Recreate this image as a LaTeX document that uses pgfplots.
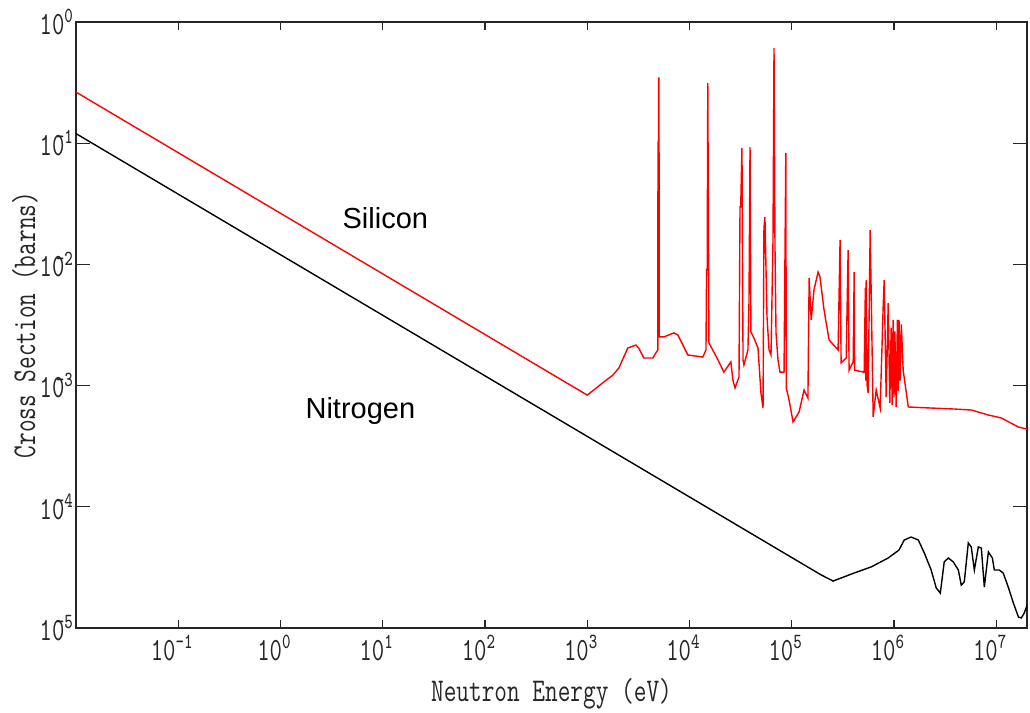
\documentclass[border=0pt]{standalone}
\usepackage{fontspec}
\usepackage{graphicx}
\usepackage{pgfplots}
\pgfplotsset{compat=1.18}
\newfontfamily\arial{Liberation Sans}
% the plotting program uses a tall narrow typewriter face
\newcommand{\tall}[1]{\scalebox{1}[1.35]{#1}}
\newcommand{\tickfont}{\ttfamily\fontsize{12}{12}\selectfont}
\newcommand{\xdecade}{\tall{\tickfont 10\textsuperscript{\pgfmathparse{int(round(\tick))}\pgfmathresult}}}
% on the y axis the minus sign sits over the zero, as in the original
\newcommand{\ydecade}{\tall{\tickfont 10\textsuperscript{\pgfmathparse{int(round(abs(\tick)))}\ifnum\pgfmathresult>0 \llap{-}\fi\pgfmathresult}}}

\begin{document}
\begin{tikzpicture}
  \begin{loglogaxis}[
    scale only axis,
    width=475.5pt, height=303pt,
    xmin=0.01, xmax=2e7,
    ymin=1e-5, ymax=1,
    log basis x=10, log basis y=10,
    xtick={1e-1,1,10,100,1e3,1e4,1e5,1e6,1e7},
    ytick={1e-5,1e-4,1e-3,1e-2,1e-1,1},
    tick align=inside,
    axis line style={line width=1pt, black!85},
    xtick style={/pgfplots/major tick length=4pt, /pgfplots/minor tick length=2.5pt, line width=0.6pt, black!85},
    ytick style={/pgfplots/major tick length=7pt, /pgfplots/minor tick length=4.5pt, line width=0.6pt, black!85},
    xticklabel={\xdecade},
    yticklabel={\ydecade},
    xticklabel style={black!85, xshift=-3pt},
    yticklabel style={black!85, xshift=2.5pt},
    xlabel={\tall{Neutron Energy (eV)}},
    ylabel={\tall{Cross Section (barns)}},
    label style={font=\ttfamily\fontsize{12.3}{12}\selectfont, black!85},
    xlabel style={at={(axis description cs:0.5,-0.109)}, anchor=center},
    ylabel style={at={(axis description cs:-0.0536,0.5)}, anchor=center},
  ]
    \coordinate (ll) at (rel axis cs:0,0);
    \coordinate (ur) at (rel axis cs:1,1);

    % Silicon
    \addplot[red, line width=0.7pt, no markers] coordinates {
      (0.01,0.264) (1.0e3,8.35e-4) (1.16e3,9.2e-4) (1.45e3,1.07e-3)
      (1.78e3,1.22e-3) (2.04e3,1.40e-3) (2.49e3,2.04e-3) (2.99e3,2.16e-3)
      (3.19e3,2.04e-3) (3.57e3,1.69e-3) (4.38e3,1.69e-3) (4.69e3,1.86e-3)
      (4.90e3,1.97e-3) (4.92e3,0.10) (4.97e3,0.10) (4.99e3,0.345)
      (5.03e3,0.345) (5.06e3,2.52e-3) (5.61e3,2.52e-3) (7.03e3,2.72e-3)
      (7.69e3,2.62e-3) (9.64e3,1.79e-3) (1.35e4,1.72e-3) (1.45e4,1.97e-3)
      (1.47e4,9.0e-3) (1.49e4,9.0e-3) (1.51e4,0.314) (1.55e4,2.25e-3)
      (1.90e4,1.63e-3) (2.17e4,1.29e-3) (2.54e4,1.57e-3) (2.66e4,1.11e-3)
      (2.79e4,9.55e-4) (3.05e4,1.18e-3) (3.12e4,0.0298) (3.17e4,0.0298)
      (3.26e4,0.0913) (3.34e4,1.63e-3) (3.41e4,1.48e-3) (3.73e4,1.97e-3)
      (3.82e4,4.90e-3) (3.91e4,0.093) (3.99e4,2.77e-3) (4.27e4,2.47e-3)
      (4.68e4,2.04e-3) (5.00e4,8.69e-4) (5.24e4,6.53e-4) (5.35e4,0.020)
      (5.47e4,0.0246) (5.73e4,3.68e-3) (6.00e4,1.97e-3) (6.27e4,1.79e-3)
      (6.56e4,0.0159) (6.71e4,0.61) (6.86e4,0.0139) (7.02e4,2.72e-3)
      (7.34e4,1.63e-3) (7.68e4,1.29e-3) (8.41e4,1.29e-3) (8.75e4,0.083)
      (8.85e4,9.55e-4) (9.42e4,7.6e-4) (1.03e5,5.01e-4) (1.18e5,6.06e-4)
      (1.32e5,9.2e-4) (1.44e5,7.9e-4) (1.48e5,7.72e-3) (1.55e5,3.48e-3)
      (1.65e5,6.15e-3) (1.81e5,8.65e-3) (1.89e5,7.87e-3) (2.07e5,4.21e-3)
      (2.32e5,2.38e-3) (2.84e5,1.97e-3) (2.97e5,0.0159) (3.04e5,1.54e-3)
      (3.41e5,1.69e-3) (3.56e5,0.0131) (3.64e5,1.34e-3) (3.99e5,1.57e-3)
      (4.08e5,8.65e-3) (4.12e5,1.34e-3) (5.11e5,1.29e-3) (5.25e5,6.4e-3)
      (5.30e5,1.1e-3) (5.35e5,7.43e-3) (5.47e5,1.0e-3) (5.59e5,8.69e-4)
      (5.85e5,0.0192) (6.26e5,5.51e-4) (6.70e5,9.2e-4) (7.33e5,6.53e-4)
      (7.84e5,4.45e-3) (8.02e5,7.43e-3) (8.39e5,8.05e-4) (8.78e5,4.80e-3)
      (9.10e5,7.2e-4) (9.39e5,3.0e-3) (9.60e5,6.9e-4) (9.80e5,3.48e-3)
      (1.00e6,8.0e-4) (1.02e6,2.8e-3) (1.05e6,6.66e-4) (1.08e6,3.48e-3)
      (1.10e6,9.0e-4) (1.12e6,3.48e-3) (1.15e6,1.1e-3) (1.18e6,3.2e-3)
      (1.23e6,1.34e-3) (1.38e6,6.66e-4) (2.31e6,6.53e-4) (3.88e6,6.41e-4)
      (5.70e6,6.29e-4) (8.36e6,5.72e-4) (1.12e7,5.41e-4) (1.65e7,4.55e-4)
      (2.0e7,4.38e-4)
    };

    % Nitrogen
    \addplot[black, line width=0.7pt, no markers] coordinates {
      (0.01,0.12) (1.94e5,2.74e-5) (2.54e5,2.44e-5) (4.07e5,2.84e-5)
      (5.98e5,3.19e-5) (8.77e5,3.78e-5) (1.12e6,4.40e-5) (1.26e6,5.32e-5)
      (1.47e6,5.63e-5) (1.73e6,5.32e-5) (1.98e6,4.16e-5) (2.31e6,3.01e-5)
      (2.59e6,2.14e-5) (2.84e6,1.94e-5) (3.10e6,3.51e-5) (3.40e6,3.78e-5)
      (3.80e6,3.51e-5) (4.26e6,3.01e-5) (4.55e6,2.26e-5) (4.87e6,2.40e-5)
      (5.33e6,5.03e-5) (5.70e6,4.66e-5) (6.11e6,3.01e-5) (6.68e6,4.66e-5)
      (7.15e6,4.57e-5) (7.65e6,2.18e-5) (8.38e6,4.24e-5) (9.17e6,3.78e-5)
      (9.58e6,3.01e-5) (1.07e7,3.01e-5) (1.17e7,2.84e-5) (1.31e7,2.18e-5)
      (1.47e7,1.61e-5) (1.65e7,1.23e-5) (1.76e7,1.21e-5) (1.88e7,1.33e-5)
      (2.06e7,1.64e-5)
    };

    \node[font=\arial\fontsize{14.5}{16}\selectfont] at (axis cs:10.6,0.0241) {Silicon};
    \node[font=\arial\fontsize{14.5}{16}\selectfont] at (axis cs:6.05,6.17e-4) {Nitrogen};
  \end{loglogaxis}
  \pgfresetboundingbox
  \path[use as bounding box] ([xshift=-38pt,yshift=-42.5pt]ll) rectangle ([xshift=1.5pt,yshift=11pt]ur);
\end{tikzpicture}
\end{document}
